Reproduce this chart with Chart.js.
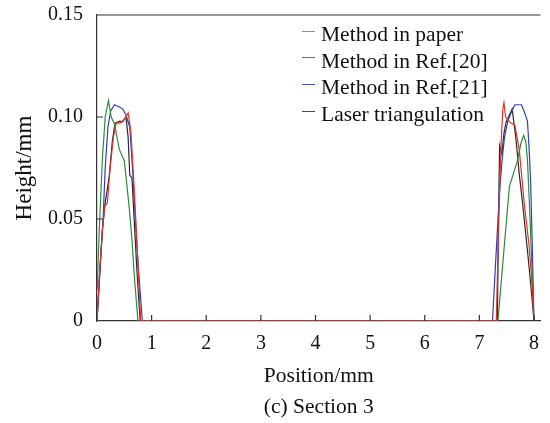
<!DOCTYPE html>
<html>
<head>
<meta charset="utf-8">
<script src="https://cdn.jsdelivr.net/npm/chart.js@4.4.1/dist/chart.umd.min.js"></script>
<style>
  body { margin: 0; background: #fff; }
  #wrap { position: relative; width: 550px; height: 423px; }
  #legend { position: absolute; left: 302px; top: 21px; font-family: "Liberation Serif", "Times New Roman", serif; font-size: 21.5px; color: #111; }
  .item { height: 26.7px; line-height: 26.7px; white-space: nowrap; }
  .swatch { display: inline-block; width: 13px; height: 0; border-top: 1.5px solid; vertical-align: middle; margin-right: 6px; position: relative; top: -5px; }
</style>
</head>
<body>
<div id="wrap">
  <canvas id="chart" width="550" height="423"></canvas>
  <div id="legend"></div>
</div>
<script>
// series names and colours
const names = ["Method in paper", "Method in Ref.[20]", "Method in Ref.[21]", "Laser triangulation"];
const colors = ["#e2302c", "#2f8a3c", "#2f3fbf", "#2a2a2a"];
const swatchColors = ["#ec6a5c", "#3a9350", "#4058cc", "#4a4a4a"];

// ticks
const xTicks = [0, 1, 2, 3, 4, 5, 6, 7, 8];
const yTicks = [0, 0.05, 0.10, 0.15];

// red: method in paper
const redX = [0, 0.05, 0.1, 0.14, 0.19, 0.24, 0.3, 0.35, 0.42, 0.47, 0.53, 0.57, 0.62, 0.66, 0.71, 0.76, 0.8,
  7.31, 7.35, 7.4, 7.43, 7.45, 7.48, 7.55, 7.65, 7.73, 7.82, 7.91, 7.96, 8.0];
const redY = [0, 0.025, 0.045, 0.056, 0.058, 0.075, 0.09, 0.097, 0.097, 0.098, 0.1, 0.102, 0.093, 0.075, 0.05, 0.022, 0,
  0, 0.045, 0.089, 0.104, 0.107, 0.1, 0.0976, 0.096, 0.084, 0.058, 0.037, 0.02, 0];

// green: Ref.[20]
const greenX = [0, 0.05, 0.1, 0.15, 0.21, 0.26, 0.32, 0.41, 0.5, 0.59, 0.64, 0.68, 0.75,
  7.34, 7.45, 7.55, 7.62, 7.7, 7.76, 7.81, 7.85, 7.88, 7.92, 7.95, 8.0];
const greenY = [0.015, 0.05, 0.08, 0.1, 0.108, 0.1, 0.0966, 0.084, 0.0786, 0.0556, 0.04, 0.023, 0,
  0, 0.035, 0.066, 0.072, 0.079, 0.087, 0.091, 0.088, 0.079, 0.055, 0.0346, 0];

// blue: Ref.[21]
const blueX = [0, 0.05, 0.11, 0.15, 0.2, 0.25, 0.32, 0.4, 0.47, 0.53, 0.6, 0.65, 0.7, 0.76, 0.83,
  7.24, 7.3, 7.37, 7.42, 7.46, 7.52, 7.58, 7.65, 7.77, 7.83, 7.88, 7.91, 7.94, 7.97, 8.0];
const blueY = [0, 0.025, 0.049, 0.075, 0.095, 0.103, 0.106, 0.105, 0.104, 0.101, 0.095, 0.075, 0.05, 0.025, 0,
  0, 0.03, 0.064, 0.08, 0.09, 0.098, 0.102, 0.106, 0.106, 0.102, 0.098, 0.085, 0.067, 0.035, 0];

// black: laser triangulation
const blackX = [0, 0.05, 0.1, 0.15, 0.22, 0.28, 0.33, 0.42, 0.47, 0.53, 0.57, 0.6, 0.64, 0.68, 0.73, 0.79,
  7.33, 7.35, 7.37, 7.41, 7.45, 7.49, 7.55, 7.6, 7.67, 7.73, 7.79, 7.88, 7.94, 8.0];
const blackY = [0, 0.022, 0.045, 0.058, 0.07, 0.088, 0.097, 0.098, 0.0976, 0.1, 0.09, 0.0715, 0.07, 0.05, 0.025, 0,
  0, 0.05, 0.086, 0.082, 0.092, 0.0976, 0.101, 0.104, 0.0893, 0.072, 0.058, 0.0346, 0.018, 0];

const seriesX = [redX, greenX, blueX, blackX];
const seriesY = [redY, greenY, blueY, blackY];

const serif = "'Liberation Serif', 'Times New Roman', serif";

const datasets = names.map((name, i) => ({
  label: name,
  data: seriesX[i].map((x, j) => ({ x, y: seriesY[i][j] })),
  borderColor: colors[i],
  borderWidth: 1.2,
  pointRadius: 0,
  tension: 0,
  fill: false
}));

// inward tick marks + top border
const frame = {
  id: "frame",
  afterDraw(chart) {
    const { ctx, chartArea: a, scales } = chart;
    ctx.save();
    ctx.strokeStyle = "#333";
    ctx.lineWidth = 1.2;
    ctx.beginPath();
    ctx.moveTo(a.left, a.top);
    ctx.lineTo(a.right, a.top);
    scales.x.ticks.forEach(t => {
      const px = scales.x.getPixelForValue(t.value);
      if (t.value === 0) return;
      ctx.moveTo(px, a.bottom);
      ctx.lineTo(px, a.bottom - 6);
    });
    scales.y.ticks.forEach(t => {
      const py = scales.y.getPixelForValue(t.value);
      if (t.value === 0) return;
      ctx.moveTo(a.left, py);
      ctx.lineTo(a.left + 6, py);
    });
    ctx.stroke();
    ctx.restore();
  }
};

const chart = new Chart(document.getElementById("chart"), {
  type: "line",
  data: { datasets },
  options: {
    responsive: false,
    animation: false,
    layout: { padding: { top: 15, right: 0, left: 0, bottom: 0 } },
    plugins: {
      legend: { display: false },
      tooltip: { enabled: false }
    },
    scales: {
      x: {
        type: "linear",
        min: 0,
        max: 8.12,
        afterFit: s => { s.height = 102; },
        afterBuildTicks: s => { s.ticks = xTicks.map(v => ({ value: v })); },
        grid: { display: false, drawTicks: false },
        border: { display: true, color: "#333", width: 1.2 },
        ticks: { color: "#111", padding: 11, maxRotation: 0, font: { family: serif, size: 20 } },
        title: {
          display: true,
          text: ["Position/mm", "(c) Section 3"],
          color: "#111",
          font: { family: serif, size: 21.5, lineHeight: 1.44 },
          padding: { top: 0, bottom: 0 }
        }
      },
      y: {
        min: 0,
        max: 0.15,
        afterFit: s => { s.width = 97; s.paddingTop = 0; s.paddingBottom = 0; },
        afterBuildTicks: s => { s.ticks = yTicks.map(v => ({ value: v })); },
        grid: { display: false, drawTicks: false },
        border: { display: true, color: "#333", width: 1.2 },
        ticks: {
          color: "#111",
          padding: 14,
          font: { family: serif, size: 20 },
          callback: v => v === 0 ? "0" : v.toFixed(2)
        },
        title: { display: true, text: "Height/mm", color: "#111", font: { family: serif, size: 23 }, padding: { top: 11, bottom: 0 } }
      }
    }
  },
  plugins: [frame]
});

// legend as html, built from the chart datasets
const legend = document.getElementById("legend");
chart.data.datasets.forEach((ds, i) => {
  const row = document.createElement("div");
  row.className = "item";
  const sw = document.createElement("span");
  sw.className = "swatch";
  sw.style.borderTopColor = swatchColors[i];
  row.appendChild(sw);
  row.appendChild(document.createTextNode(ds.label));
  legend.appendChild(row);
});
</script>
</body>
</html>
